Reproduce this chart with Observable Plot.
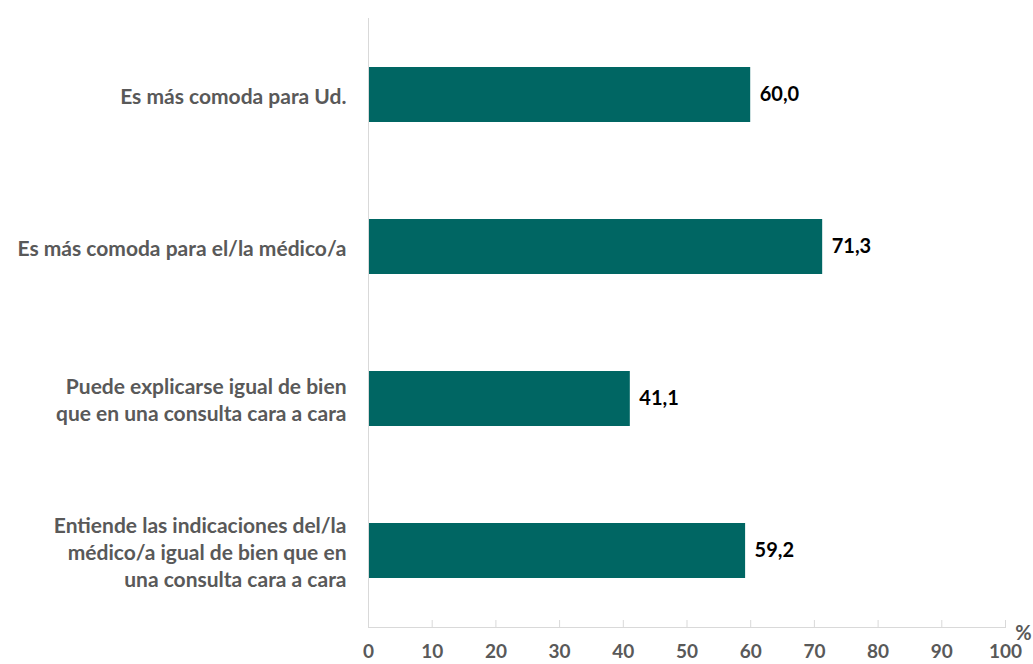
<!DOCTYPE html>
<html>
<head>
<meta charset="utf-8">
<script src="https://cdn.jsdelivr.net/npm/d3@7"></script>
<script src="https://cdn.jsdelivr.net/npm/@observablehq/plot@0.6"></script>
<style>
  html, body { margin: 0; padding: 0; background: #fff; }
  #chart svg { display: block; }
</style>
</head>
<body>
<div id="chart"></div>
<script>
const categories = [
  "Es más comoda para Ud.",
  "Es más comoda para el/la médico/a",
  "Puede explicarse igual de bien\nque en una consulta cara a cara",
  "Entiende las indicaciones del/la\nmédico/a igual de bien que en\nuna consulta cara a cara"
];
const values = [60.0, 71.3, 41.1, 59.2];
const xTicks = [0, 10, 20, 30, 40, 50, 60, 70, 80, 90, 100];

const data = categories.map((c, i) => ({category: c, value: values[i]}));
const fmt = v => v.toFixed(1).replace(".", ",");

const W = 1033, H = 664, mt = 18, mb = 37;
const font = "Lato, 'Open Sans', sans-serif";

const chart = Plot.plot({
  width: W,
  height: H,
  marginLeft: 368,
  marginRight: 28,
  marginTop: mt,
  marginBottom: mb,
  style: {fontFamily: font, background: "#fff"},
  x: {domain: [0, 100], axis: null},
  y: {domain: categories, axis: null, paddingInner: 0.64, paddingOuter: 0.32},
  marks: [
    Plot.barX(data, {x: "value", y: "category", fill: "#006663"}),
    Plot.ruleX([0], {stroke: "#d9d9d9", strokeWidth: 1}),
    Plot.frame({anchor: "bottom", stroke: "#d9d9d9"}),
    Plot.tickX(xTicks, {x: d => d, stroke: "#d9d9d9", insetTop: H - mt - mb - 7}),
    Plot.axisX({ticks: xTicks, tickSize: 0, tickPadding: 17, fontSize: 19, fontWeight: "bold", color: "#595959", label: null, tickFormat: d => String(d)}),
    Plot.axisY({tickSize: 0, tickPadding: 22, fontSize: 21, fontWeight: "bold", color: "#595959", label: null, lineHeight: 1.29, textAnchor: "end"}),
    Plot.text(data, {x: "value", y: "category", text: d => fmt(d.value), dx: 9, textAnchor: "start", fontSize: 20, fontWeight: "bold", fill: "#000"}),
    Plot.text(["%"], {frameAnchor: "bottom-right", dx: 18, dy: 6, textAnchor: "middle", lineAnchor: "middle", fontSize: 20, fontWeight: "bold", fill: "#595959"})
  ]
});
document.getElementById("chart").appendChild(chart);
</script>
</body>
</html>
